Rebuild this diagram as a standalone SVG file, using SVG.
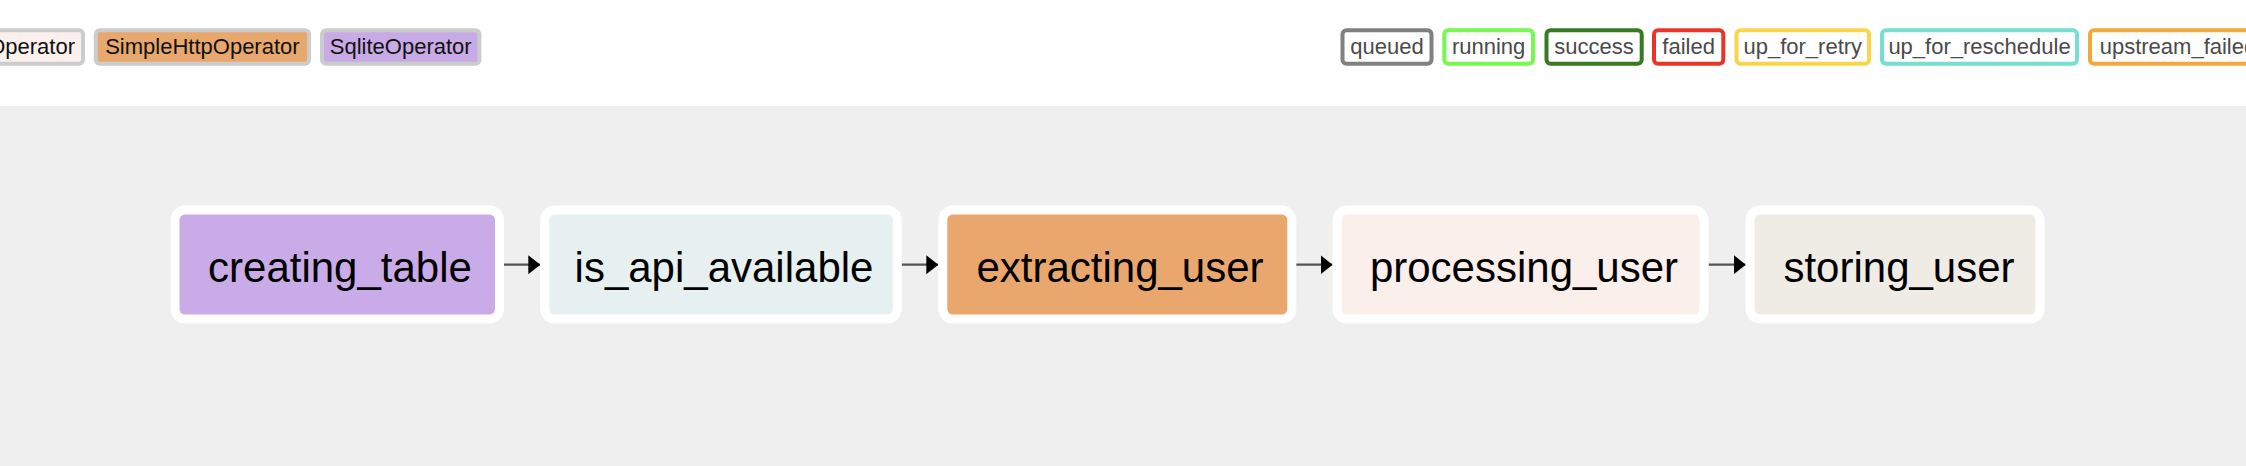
<svg xmlns="http://www.w3.org/2000/svg" width="2246" height="466" viewBox="0 0 2246 466">
<style>
text { font-family: "Liberation Sans", Arial, Helvetica, sans-serif; }
.op { stroke: #cccccc; stroke-width: 4; }
.optext { font-size: 22px; fill: #111111; text-anchor: middle; }
.st { fill: #ffffff; stroke-width: 4; }
.sttext { font-size: 22px; fill: #4a4a4a; text-anchor: middle; }
.node rect { stroke: #ffffff; stroke-width: 9; }
.node text { font-size: 42px; fill: #000000; text-anchor: middle; }
.edge { fill: none; stroke: #555555; stroke-width: 2.2; }
</style>
<defs>
<marker id="arrow" viewBox="0 0 12 19" refX="12" refY="9.5" markerWidth="12" markerHeight="19" markerUnits="userSpaceOnUse" orient="auto">
<path d="M0,0 L12,9.5 L0,19 z" fill="#000000"/>
</marker>
</defs>
<rect x="0" y="0" width="2246" height="106" fill="#ffffff"/>
<rect x="0" y="106" width="2246" height="360" fill="#efefef"/>
<g id="legend-operators">
<rect class="op" x="-20" y="30.3" width="103" height="33.4" rx="4" fill="#fbf0ec"/>
<text class="optext" x="75" y="54" style="text-anchor:end">Operator</text>
<rect class="op" x="95.8" y="30.3" width="213.3" height="33.4" rx="4" fill="#e8a76c"/>
<text class="optext" x="202.4" y="54">SimpleHttpOperator</text>
<rect class="op" x="322" y="30.3" width="157.4" height="33.4" rx="4" fill="#c8abe6"/>
<text class="optext" x="400.7" y="54">SqliteOperator</text>
</g>
<g id="legend-states">
<rect class="st" x="1342.5" y="30.3" width="89" height="33.4" rx="4" stroke="#808080"/>
<text class="sttext" x="1387" y="54">queued</text>
<rect class="st" x="1444.3" y="30.3" width="88.7" height="33.4" rx="4" stroke="#77f84e"/>
<text class="sttext" x="1488.6" y="54">running</text>
<rect class="st" x="1546.5" y="30.3" width="95.2" height="33.4" rx="4" stroke="#367a22"/>
<text class="sttext" x="1594.1" y="54">success</text>
<rect class="st" x="1654" y="30.3" width="69.3" height="33.4" rx="4" stroke="#e93527"/>
<text class="sttext" x="1688.6" y="54">failed</text>
<rect class="st" x="1736.5" y="30.3" width="132.6" height="33.4" rx="4" stroke="#f9d649"/>
<text class="sttext" x="1802.8" y="54">up_for_retry</text>
<rect class="st" x="1882" y="30.3" width="195" height="33.4" rx="4" stroke="#77ded2"/>
<text class="sttext" x="1979.5" y="54">up_for_reschedule</text>
<rect class="st" x="2090" y="30.3" width="176" height="33.4" rx="4" stroke="#f3a83c"/>
<text class="sttext" x="2099.7" y="54" style="text-anchor:start">upstream_failed</text>
</g>
<g id="connectors">
<path class="edge" d="M504,264.7 L540.3,264.7" marker-end="url(#arrow)"/>
<path class="edge" d="M901.5,264.7 L938.3,264.7" marker-end="url(#arrow)"/>
<path class="edge" d="M1296,264.7 L1332.6,264.7" marker-end="url(#arrow)"/>
<path class="edge" d="M1708.6,264.7 L1745.8,264.7" marker-end="url(#arrow)"/>
</g>
<g id="creating_table" class="node">
<rect x="175" y="210" width="324.5" height="109" rx="10" fill="#c9ace7"/>
<text x="340" y="282">creating_table</text>
</g>
<g id="is_api_available" class="node">
<rect x="544.7" y="210" width="352.5" height="109" rx="10" fill="#e7f0f0"/>
<text x="724" y="282">is_api_available</text>
</g>
<g id="extracting_user" class="node">
<rect x="942.8" y="210" width="349" height="109" rx="10" fill="#e9a76d"/>
<text x="1120" y="282">extracting_user</text>
</g>
<g id="processing_user" class="node">
<rect x="1337" y="210" width="367" height="109" rx="10" fill="#fbefeb"/>
<text x="1524" y="282">processing_user</text>
</g>
<g id="storing_user" class="node">
<rect x="1750" y="210" width="290" height="109" rx="10" fill="#efece5"/>
<text x="1899" y="282">storing_user</text>
</g>
</svg>
